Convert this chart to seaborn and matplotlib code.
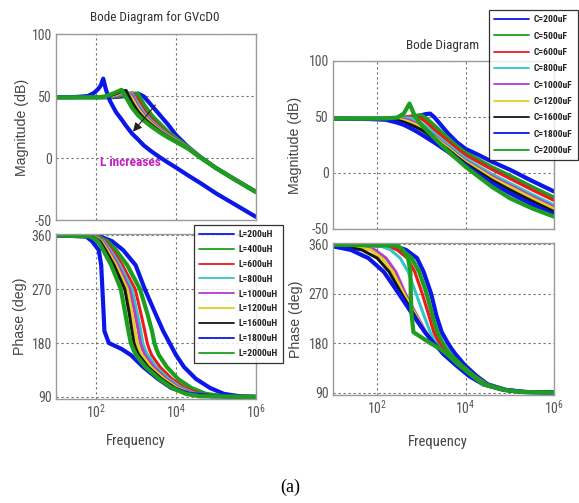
import numpy as np
import matplotlib
matplotlib.use("Agg")
import matplotlib.pyplot as plt
from matplotlib.ticker import NullLocator
from matplotlib.lines import Line2D
import seaborn as sns

sns.set_theme(style="white")
plt.rcParams['font.family'] = ['Roboto Condensed', 'Archivo Narrow', 'DejaVu Sans']
plt.rcParams['mathtext.fontset'] = 'custom'
plt.rcParams['mathtext.rm'] = 'Roboto Condensed'
plt.rcParams['mathtext.it'] = 'Roboto Condensed:italic'
plt.rcParams['axes.unicode_minus'] = False

# ---------------- legend labels and colours ----------------
L_labels = ['L=200uH', 'L=400uH', 'L=600uH', 'L=800uH', 'L=1000uH',
            'L=1200uH', 'L=1600uH', 'L=1800uH', 'L=2000uH']
C_labels = ['C=200uF', 'C=500uF', 'C=600uF', 'C=800uF', 'C=1000uF',
            'C=1200uF', 'C=1600uF', 'C=1800uF', 'C=2000uF']
colors = ['#0b16e8', '#1e9e1e', '#ee1a1a', '#33c6c6', '#b43ccc',
          '#e2d21c', '#151515', '#0b16e8', '#1e9e1e']
widths = [3.0, 3.0, 2.2, 2.2, 2.2, 2.2, 2.2, 3.0, 3.0]

# ---------------- magnitude, L sweep (log10 f grid, dB) ----------------
mag_L_logf = [1.0, 1.5, 1.8, 1.95, 2.05, 2.12, 2.18, 2.25, 2.35, 2.5, 2.64, 2.75,
              2.9, 3.05, 3.2, 3.4, 3.6, 3.8, 4.0, 4.3, 4.6, 5.0, 5.5, 6.0]
mag_L = [
    [49, 49, 49, 49, 49, 49, 49, 49, 49, 49.2, 49.6, 50.2, 51.2, 52, 49.5, 42, 34.5, 27, 18.5, 9, 1, -8, -17.8, -27.3],
    [49, 49, 49, 49, 49, 49, 49, 49, 49.3, 49.7, 50.4, 51, 52, 51.5, 43, 34, 27.5, 21, 16, 8.8, 1, -8.1, -17.9, -27.4],
    [49, 49, 49, 49, 49, 49, 49, 49.1, 49.4, 50, 51, 51.8, 52.5, 47, 38.5, 31, 25, 19.5, 15, 8.6, 1, -8.1, -17.9, -27.4],
    [49, 49, 49, 49, 49, 49, 49.1, 49.2, 49.6, 50.4, 51.6, 52.6, 52, 44, 36.5, 29.5, 23.8, 18.8, 14.6, 8.4, 0.9, -8.2, -18, -27.5],
    [49, 49, 49, 49, 49, 49, 49.1, 49.3, 49.8, 50.8, 52.2, 53.3, 50.5, 41.5, 35, 28.5, 23, 18.3, 14.2, 8.2, 0.9, -8.2, -18, -27.5],
    [49, 49, 49, 49, 49, 49, 49.2, 49.4, 50, 51.2, 53, 54, 48, 39.5, 33.5, 27.5, 22.2, 17.8, 13.8, 8, 0.8, -8.3, -18, -27.5],
    [49, 49, 49, 49, 49, 49.1, 49.3, 49.6, 50.3, 51.8, 53.8, 54.5, 45, 37.5, 32, 26.5, 21.5, 17.3, 13.5, 7.8, 0.7, -8.3, -18, -27.5],
    [49, 49.2, 50, 52.5, 55.5, 58.5, 64, 55, 46, 37, 31, 26, 19.7, 15, 10, 5, 0.5, -3.7, -7.7, -14, -20, -28.5, -38, -47.5],
    [49, 49, 49, 49, 49, 49.2, 49.5, 50, 51, 53, 55, 49, 40.5, 34.5, 30, 25, 20.5, 16.5, 13, 7.5, 0.5, -8.3, -18, -27.5],
]

# ---------------- phase, L sweep (log10 f where each level is crossed) ----------------
ph_L_levels = [359.5, 358, 350, 335, 310, 270, 230, 200, 180, 170, 160, 140, 120, 105, 95, 91, 90]
ph_L = [
    [1.0, 2.1, 2.4, 2.68, 2.99, 3.22, 3.48, 3.68, 3.84, 3.92, 4.0, 4.2, 4.5, 4.85, 5.2, 5.6, 6.0],
    [1.0, 2.03, 2.28, 2.5, 2.78, 3.1, 3.28, 3.4, 3.46, 3.51, 3.57, 3.77, 4.05, 4.38, 4.75, 5.2, 6.0],
    [1.0, 2.0, 2.22, 2.41, 2.66, 2.98, 3.12, 3.22, 3.28, 3.33, 3.39, 3.6, 3.9, 4.22, 4.58, 5.0, 6.0],
    [1.0, 1.97, 2.19, 2.36, 2.6, 2.9, 3.03, 3.12, 3.17, 3.22, 3.29, 3.5, 3.82, 4.14, 4.5, 4.9, 6.0],
    [1.0, 1.95, 2.16, 2.32, 2.55, 2.84, 2.97, 3.06, 3.11, 3.16, 3.22, 3.44, 3.76, 4.08, 4.45, 4.85, 6.0],
    [1.0, 1.92, 2.13, 2.28, 2.5, 2.78, 2.9, 2.98, 3.03, 3.08, 3.15, 3.37, 3.7, 4.03, 4.4, 4.8, 6.0],
    [1.0, 1.9, 2.1, 2.24, 2.45, 2.72, 2.83, 2.9, 2.95, 3.0, 3.07, 3.3, 3.64, 3.97, 4.32, 4.7, 6.0],
    [1.0, 1.75, 1.9, 2.07, 2.13, 2.16, 2.19, 2.21, 2.32, 2.64, 2.87, 3.18, 3.55, 3.88, 4.35, 4.9, 6.0],
    [1.0, 1.85, 2.05, 2.18, 2.38, 2.62, 2.73, 2.81, 2.87, 2.93, 3.0, 3.24, 3.58, 3.9, 4.25, 4.6, 6.0],
]

# ---------------- magnitude, C sweep ----------------
mag_C_logf = [1.0, 1.8, 2.2, 2.45, 2.6, 2.73, 2.85, 3.0, 3.1, 3.2, 3.3, 3.45,
              3.6, 3.8, 4.0, 4.3, 4.6, 5.0, 5.5, 6.0]
mag_C = [
    [48.5, 48.5, 48.6, 48.8, 49.1, 49.6, 50.3, 51.6, 52.6, 53.0, 49.5, 42.5, 35.5, 27.5, 21.5, 16, 10, 3, -7, -16.5],
    [48.5, 48.5, 48.6, 48.9, 49.3, 50, 51, 51.5, 49, 45.5, 42, 36.5, 31, 24, 18, 11.5, 5, -2.5, -12.5, -22],
    [48.5, 48.5, 48.6, 49, 49.5, 50.5, 51, 48.5, 45.5, 42, 38.5, 33.5, 28.5, 22, 16, 9.5, 3, -5, -15, -24.5],
    [48.5, 48.5, 48.5, 48.7, 49, 49.2, 48, 44.5, 41.5, 38.5, 35, 30, 25.5, 19, 13, 6, -1, -9, -19, -28.5],
    [48.5, 48.5, 48.4, 48.3, 48, 47, 45, 41.5, 39, 36, 33, 28, 23.5, 17, 11, 4, -3, -11, -21, -30.5],
    [48.5, 48.4, 48.2, 47.8, 47, 45.5, 43.5, 40.5, 38, 35, 32, 27, 22.5, 16, 10, 3, -4.5, -12.5, -22.5, -32],
    [48.5, 48.3, 47.9, 47, 45.5, 43.5, 41.5, 38.5, 36, 33, 30, 25.5, 21, 14.5, 8.5, 1, -6.5, -15, -25, -34.5],
    [48.5, 48.2, 47.5, 45, 43, 40.5, 38, 34.5, 32, 29.5, 27, 23, 19, 13, 7, -1.5, -9, -18, -28, -37],
    [48.5, 48.5, 48.7, 49.5, 53, 62, 51, 43, 39, 35, 31, 25, 19.5, 12.5, 5.5, -3.5, -12.5, -22.5, -31.5, -39],
]

# ---------------- phase, C sweep ----------------
ph_C_levels = [359.8, 358, 350, 335, 310, 270, 230, 200, 180, 170, 160, 140, 120, 105, 95, 91, 90]
ph_C = [
    [0.0, 2.35, 2.65, 2.9, 3.05, 3.22, 3.34, 3.46, 3.6, 3.68, 3.77, 3.98, 4.25, 4.5, 4.9, 5.35, 6.0],
    [0.0, 2.3, 2.55, 2.78, 2.95, 3.12, 3.25, 3.36, 3.48, 3.56, 3.65, 3.9, 4.2, 4.47, 4.88, 5.33, 6.0],
    [0.0, 2.2, 2.45, 2.68, 2.85, 3.02, 3.17, 3.28, 3.4, 3.48, 3.58, 3.86, 4.18, 4.45, 4.86, 5.32, 6.0],
    [0.0, 2.05, 2.3, 2.52, 2.7, 2.88, 3.06, 3.2, 3.33, 3.43, 3.53, 3.83, 4.16, 4.44, 4.85, 5.3, 6.0],
    [0.0, 1.5, 1.95, 2.2, 2.42, 2.64, 2.9, 3.1, 3.28, 3.4, 3.5, 3.8, 4.14, 4.42, 4.85, 5.3, 6.0],
    [0.0, 1.3, 1.85, 2.1, 2.35, 2.6, 2.88, 3.08, 3.27, 3.39, 3.5, 3.8, 4.13, 4.42, 4.85, 5.3, 6.0],
    [0.0, 1.1, 1.65, 2.0, 2.27, 2.55, 2.85, 3.08, 3.27, 3.38, 3.5, 3.78, 4.1, 4.41, 4.85, 5.3, 6.0],
    [0.0, 0.9, 1.4, 1.8, 2.15, 2.49, 2.82, 3.08, 3.28, 3.4, 3.5, 3.78, 4.08, 4.4, 4.85, 5.3, 6.0],
    [0.0, 2.45, 2.58, 2.7, 2.75, 2.76, 2.78, 2.82, 3.2, 3.42, 3.58, 3.85, 4.16, 4.4, 4.85, 5.3, 6.0],
]

freq_ticks = [1e2, 1e4, 1e6]
freq_ticklabels = [r'$10^{2}$', r'$10^{4}$', r'$10^{6}$']
mag_ticks = [-50, 0, 50, 100]
phase_ticks = [90, 180, 270, 360]

# ---------------- figure layout (pixel boxes) ----------------
W, H = 579, 503
fig = plt.figure(figsize=(W / 100, H / 100), dpi=100)


def box(x0, x1, y0, y1):
    return fig.add_axes([x0 / W, 1 - y1 / H, (x1 - x0) / W, (y1 - y0) / H])


ax_ml = box(56, 256, 34, 220)
ax_pl = box(56, 256, 234, 399)
ax_mr = box(333, 554, 61, 229)
ax_pr = box(333, 554, 243, 395)


def draw_mag(ax, logf, rows):
    f = 10 ** np.asarray(logf)
    for row, col, lw in zip(rows, colors, widths):
        sns.lineplot(x=f, y=row, ax=ax, color=col, lw=lw, estimator=None,
                     sort=False, legend=False)


def draw_phase(ax, levels, rows):
    for row, col, lw in zip(rows, colors, widths):
        f = 10 ** np.asarray(row)
        sns.lineplot(x=f, y=levels, ax=ax, color=col, lw=lw, estimator=None,
                     sort=False, legend=False)


def style(ax, ylim, yticks, show_x):
    ax.set_xscale('log')
    ax.set_xlim(1e1, 1e6)
    ax.set_ylim(*ylim)
    ax.set_yticks(yticks)
    ax.set_xticks(freq_ticks)
    ax.xaxis.set_minor_locator(NullLocator())
    if show_x:
        ax.set_xticklabels(freq_ticklabels)
    else:
        ax.set_xticklabels([])
    ax.grid(True, which='major', ls=(0, (2, 2.5)), color='#707070', lw=0.8)
    for s in ax.spines.values():
        s.set_color('#9a9a9a')
        s.set_linewidth(1.0)
    ax.tick_params(direction='in', length=3, color='#9a9a9a', labelsize=10,
                   labelcolor='#555555', pad=3)
    ax.set_xlabel('')
    ax.set_ylabel('')


draw_mag(ax_ml, mag_L_logf, mag_L)
draw_phase(ax_pl, ph_L_levels, ph_L)
draw_mag(ax_mr, mag_C_logf, mag_C)
draw_phase(ax_pr, ph_C_levels, ph_C)

style(ax_ml, (-50, 100), mag_ticks, False)
style(ax_pl, (86.5, 362), phase_ticks, True)
style(ax_mr, (-50, 100), mag_ticks, False)
style(ax_pr, (85.5, 362.5), phase_ticks, True)

# axis labels
lab = dict(fontsize=10.2, color='#444444', family=['Liberation Sans', 'DejaVu Sans'])
for ax, txt, xc in [(ax_ml, 'Magnitude (dB)', -0.135), (ax_pl, 'Phase (deg)', -0.145),
                    (ax_mr, 'Magnitude (dB)', -0.14), (ax_pr, 'Phase (deg)', -0.136)]:
    ax.set_ylabel(txt, **lab)
    ax.yaxis.set_label_coords(xc, 0.5)

fig.text(136 / W, 1 - 441 / H, 'Frequency', ha='center', va='center', fontsize=10.5, color='#444444')
fig.text(438 / W, 1 - 442 / H, 'Frequency', ha='center', va='center', fontsize=10.5, color='#444444')
fig.text(155 / W, 1 - 18 / H, 'Bode Diagram for GVcD0', ha='center', va='center', fontsize=9.5, color='#333333')
fig.text(443 / W, 1 - 45 / H, 'Bode Diagram', ha='center', va='center', fontsize=9.5, color='#333333')
fig.text(290 / W, 1 - 487 / H, '(a)', ha='center', va='center', fontsize=13,
         family=['Liberation Serif', 'DejaVu Serif'], color='black')

# annotation of the L sweep
ax_ml.annotate('', xy=(10 ** 2.88, 19.5), xytext=(10 ** 3.53, 44.5),
               arrowprops=dict(arrowstyle='-|>', color='#222222', lw=0.8, mutation_scale=13))
ax_ml.text(10 ** 2.1, -4, 'L increases', color='#c21fc2', fontsize=9.5,
           fontweight='bold', ha='left', va='center')

# legends
leg_kw = dict(loc='upper left', frameon=True, fancybox=False, borderaxespad=0,
              handlelength=3.7, handletextpad=0.5, borderpad=0.55,
              prop={'size': 6.8, 'weight': 'bold'})
h = [Line2D([], [], color=c, lw=1.3) for c in colors]
lg1 = fig.legend(h, L_labels, bbox_to_anchor=(194 / W, 1 - 225 / H), labelspacing=0.62, **leg_kw)
lg2 = fig.legend(h, C_labels, bbox_to_anchor=(489 / W, 1 - 10 / H), labelspacing=0.78, **leg_kw)
for lg in (lg1, lg2):
    lg.get_frame().set_edgecolor('black')
    lg.get_frame().set_linewidth(0.9)
    for t in lg.get_texts():
        t.set_color('#222222')

fig.savefig('out.png', dpi=100)
